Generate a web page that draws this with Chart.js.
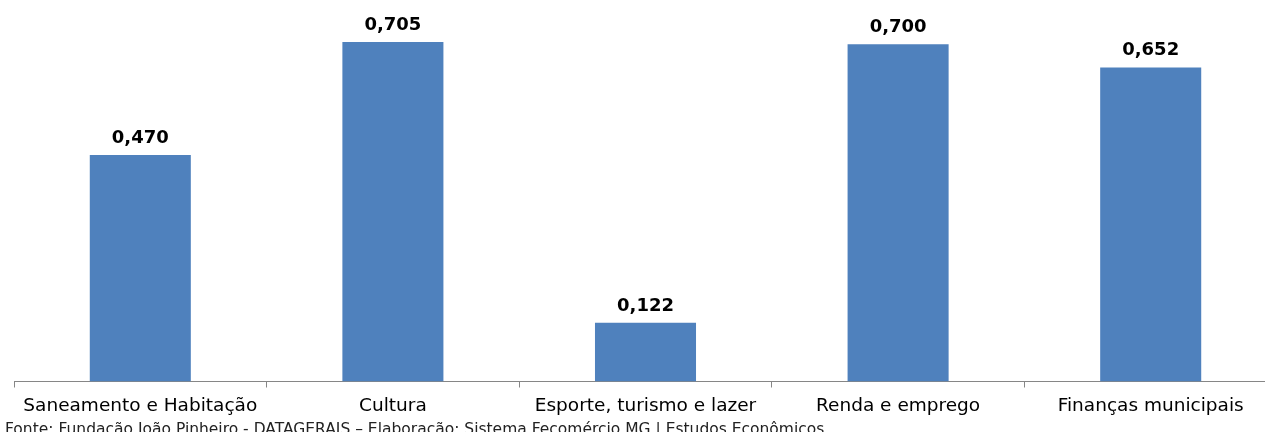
<!DOCTYPE html>
<html>
<head>
<meta charset="utf-8">
<script src="https://cdn.jsdelivr.net/npm/chart.js@4/dist/chart.umd.min.js"></script>
<style>
  html, body { margin: 0; padding: 0; background: #fff; overflow: hidden; }
  #wrap { position: relative; width: 1290px; height: 432px; }
  #fonte {
    position: absolute; left: 5px; top: 421.5px;
    font-family: 'DejaVu Sans'; font-size: 15.5px; line-height: 15.5px; color: #222;
    white-space: nowrap;
  }
</style>
</head>
<body>
<div id="wrap">
  <canvas id="grafico"></canvas>
  <div id="fonte">Fonte: Fundação João Pinheiro - DATAGERAIS – Elaboração: Sistema Fecomércio MG | Estudos Econômicos</div>
</div>
<script>
// Dados
const categorias = ['Saneamento e Habitação', 'Cultura', 'Esporte, turismo e lazer', 'Renda e emprego', 'Finanças municipais'];
const valores = [0.470, 0.705, 0.122, 0.700, 0.652];

const fonte = "'DejaVu Sans'";

// Rótulos acima das barras (formato 0,470)
const rotulos = {
    id: 'rotulos',
    afterDatasetsDraw(chart) {
        const ctx = chart.ctx;
        ctx.save();
        ctx.font = 'bold 18px ' + fonte;
        ctx.fillStyle = '#000';
        ctx.textAlign = 'center';
        ctx.textBaseline = 'alphabetic';
        chart.getDatasetMeta(0).data.forEach((bar, i) => {
            ctx.fillText(valores[i].toFixed(3).replace('.', ','), bar.x, bar.y - 12);
        });
        ctx.restore();
    }
};

const ctx = document.getElementById('grafico').getContext('2d');
new Chart(ctx, {
    type: 'bar',
    data: {
        labels: categorias,
        datasets: [{
            data: valores,
            backgroundColor: '#4F81BD',
            borderWidth: 0,
            barPercentage: 0.4,
            categoryPercentage: 1
        }]
    },
    options: {
        responsive: true,
        maintainAspectRatio: false,
        animation: false,
        layout: { padding: { left: 14, right: 13, top: 0, bottom: 0 } },
        scales: {
            x: {
                offset: true,
                grid: { display: true, drawOnChartArea: false, offset: true, tickLength: 6, color: '#868686' },
                border: { color: '#868686', width: 1 },
                ticks: {
                    color: '#000',
                    font: { family: fonte, size: 18.5 },
                    padding: 8,
                    maxRotation: 0,
                    autoSkip: false
                },
                afterFit: s => { s.height = 50.5; }
            },
            y: { display: false, min: 0, max: 0.792 }
        },
        plugins: {
            legend: { display: false },
            tooltip: { enabled: false }
        }
    },
    plugins: [rotulos]
});
</script>
</body>
</html>
